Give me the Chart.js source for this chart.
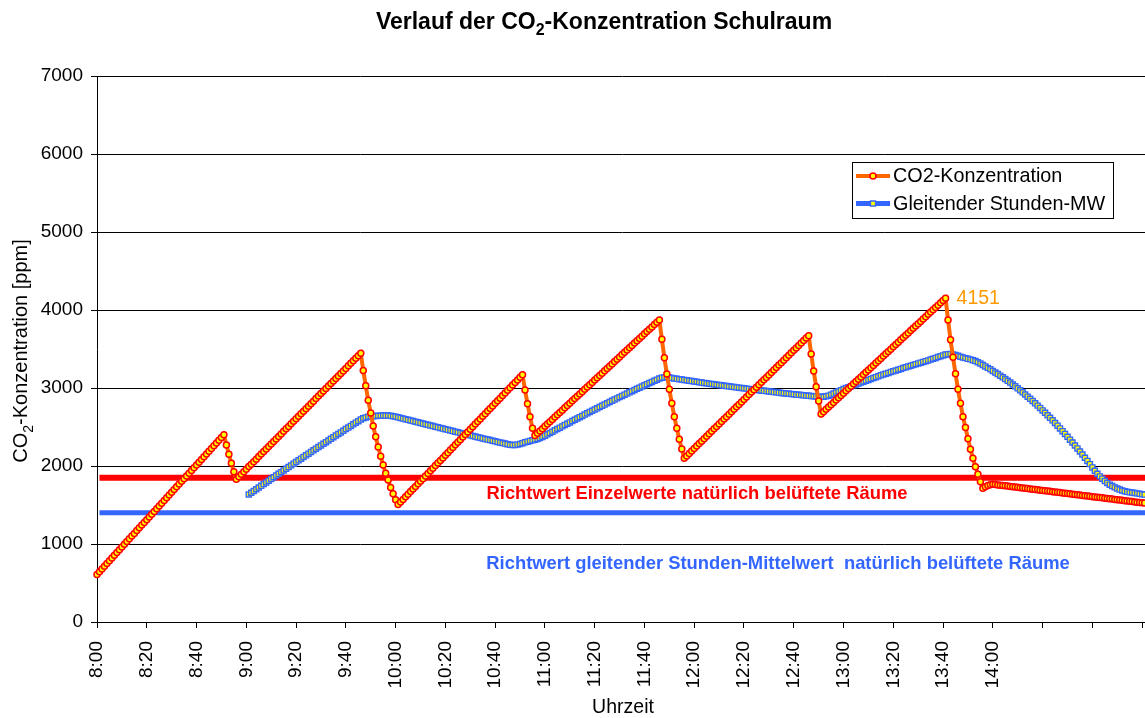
<!DOCTYPE html>
<html lang="de">
<head>
<meta charset="utf-8">
<title>Verlauf der CO2-Konzentration Schulraum</title>
<script src="https://cdn.jsdelivr.net/npm/chart.js@4.4.1/dist/chart.umd.min.js"></script>
<style>
  html, body { margin: 0; padding: 0; background: #fff; overflow: hidden; }
  #wrap { width: 1178px; height: 718px; }
</style>
</head>
<body>
<div id="wrap"><canvas id="co2Chart" width="1178" height="718"></canvas></div>
<script>
// Messwerte: ein Wert pro Minute ab 8:00 (Index = Minuten seit 8:00)
const co2Werte = [
    610, 645, 680, 715, 750, 786, 821, 856, 891, 926, 961, 996, 1031, 1066, 1101, 1136, 1172, 1207, 1242, 1277,
    1312, 1347, 1382, 1417, 1452, 1487, 1522, 1557, 1593, 1628, 1663, 1698, 1733, 1768, 1803, 1838, 1873, 1908, 1943, 1979,
    2014, 2049, 2084, 2119, 2154, 2189, 2224, 2259, 2294, 2329, 2365, 2400,
    2270, 2150, 2035, 1925, 1830,
    1862, 1895, 1927, 1959, 1992, 2024, 2056, 2088, 2121, 2153, 2185, 2218, 2250, 2282, 2315, 2347, 2379, 2411, 2444, 2476,
    2508, 2541, 2573, 2605, 2638, 2670, 2702, 2734, 2767, 2799, 2831, 2864, 2896, 2928, 2961, 2993, 3025, 3057, 3090, 3122,
    3154, 3187, 3219, 3251, 3284, 3316, 3348, 3380, 3413, 3445,
    3225, 3030, 2842, 2680, 2512, 2376, 2244, 2124, 2013, 1906, 1821, 1725, 1645, 1568, 1505,
    1538, 1572, 1605, 1638, 1672, 1705, 1738, 1771, 1805, 1838, 1871, 1905, 1938, 1971, 2005, 2038, 2071, 2104, 2138, 2171,
    2204, 2238, 2271, 2304, 2338, 2371, 2404, 2437, 2471, 2504, 2537, 2571, 2604, 2637, 2671, 2704, 2737, 2770, 2804, 2837,
    2870, 2904, 2937, 2970, 3004, 3037, 3070, 3103, 3137, 3170,
    2974, 2799, 2632, 2483, 2390,
    2420, 2449, 2479, 2509, 2538, 2568, 2597, 2627, 2657, 2686, 2716, 2746, 2775, 2805, 2835, 2864, 2894, 2924, 2953, 2983,
    3013, 3042, 3072, 3101, 3131, 3161, 3190, 3220, 3250, 3279, 3309, 3339, 3368, 3398, 3428, 3457, 3487, 3516, 3546, 3576,
    3605, 3635, 3665, 3694, 3724, 3754, 3783, 3813, 3843, 3872,
    3624, 3389, 3179, 2983, 2803, 2632, 2483, 2342, 2218, 2098,
    2129, 2161, 2192, 2224, 2255, 2287, 2318, 2350, 2381, 2413, 2444, 2476, 2507, 2538, 2570, 2601, 2633, 2664, 2696, 2727,
    2759, 2790, 2822, 2853, 2885, 2916, 2948, 2979, 3011, 3042, 3073, 3105, 3136, 3168, 3199, 3231, 3262, 3294, 3325, 3357,
    3388, 3420, 3451, 3483, 3514, 3545, 3577, 3608, 3640, 3671,
    3436, 3218, 3017, 2833, 2667,
    2697, 2726, 2756, 2786, 2815, 2845, 2875, 2904, 2934, 2964, 2994, 3023, 3053, 3083, 3112, 3142, 3172, 3201, 3231, 3261,
    3290, 3320, 3350, 3379, 3409, 3439, 3469, 3498, 3528, 3558, 3587, 3617, 3647, 3676, 3706, 3736, 3765, 3795, 3825, 3854,
    3884, 3914, 3944, 3973, 4003, 4033, 4062, 4092, 4122, 4151,
    3872, 3620, 3393, 3183, 2983, 2803, 2632, 2494, 2350, 2216, 2098, 1991, 1893, 1797, 1714,
    1735, 1750, 1760, 1766, 1762, 1758, 1754, 1750, 1746, 1742, 1738, 1734, 1730, 1726, 1722, 1718, 1714, 1710, 1706, 1702,
    1698, 1694, 1690, 1686, 1683, 1679, 1675, 1671, 1667, 1663, 1659, 1655, 1651, 1647, 1643, 1639, 1635, 1631, 1627, 1623,
    1619, 1615, 1611, 1607, 1604, 1600, 1596, 1592, 1588, 1584, 1580, 1576, 1572, 1568, 1564, 1560, 1556, 1552, 1548, 1544,
    1540, 1536, 1532, 1528, 1525
];

// Gleitender Stundenmittelwert, erster Wert bei Minute 61
const mittelStart = 61;
const stundenMittel = [
    1635, 1657, 1679, 1702, 1724, 1746, 1768, 1790, 1812, 1834, 1856, 1878, 1900, 1921, 1943, 1965, 1986, 2008, 2030, 2051,
    2073, 2094, 2116, 2137, 2158, 2180, 2201, 2222, 2243, 2264, 2285, 2306, 2327, 2348, 2369, 2390, 2411, 2431, 2452, 2473,
    2493, 2514, 2534, 2555, 2575, 2595,
    2611, 2623, 2632, 2637, 2639, 2641, 2643, 2644, 2646, 2647, 2646, 2643, 2638, 2632, 2624,
    2616, 2608, 2600, 2592, 2584, 2576, 2568, 2560, 2552, 2544, 2536, 2528, 2520, 2512, 2504, 2496, 2488, 2480, 2472, 2464,
    2456, 2448, 2440, 2432, 2424, 2416, 2408, 2401, 2393, 2385, 2377, 2370, 2362, 2354, 2347, 2339, 2332, 2324, 2317, 2309,
    2302, 2294, 2287, 2280, 2272,
    2269, 2270, 2274, 2282, 2293, 2303, 2312, 2321, 2329, 2337, 2347, 2359, 2373, 2389, 2406, 2423, 2440, 2457, 2474, 2491,
    2508, 2525, 2542, 2559, 2576, 2593, 2609, 2626, 2642, 2659, 2675, 2692, 2708, 2724, 2740, 2756, 2772, 2788, 2804, 2820,
    2836, 2852, 2867, 2883, 2898, 2914, 2929, 2944, 2959, 2974, 2989, 3004, 3019, 3034, 3049, 3064, 3078, 3093, 3107, 3122,
    3132, 3137, 3138, 3135, 3129, 3123, 3118, 3113, 3109, 3104, 3099, 3094, 3089, 3084, 3080, 3075, 3070, 3065, 3061, 3056,
    3051, 3047, 3042, 3038, 3034, 3029, 3025, 3021, 3016, 3012, 3008, 3004, 3000, 2996, 2992, 2988, 2984, 2980, 2976, 2972,
    2968, 2964, 2960, 2956, 2952, 2948, 2945, 2941, 2937, 2934, 2930, 2927, 2923, 2920, 2916, 2913, 2910, 2906, 2903, 2900,
    2897, 2894, 2892, 2889, 2887,
    2888, 2893, 2902, 2914, 2929, 2943, 2958, 2972, 2987, 2999, 3011, 3022, 3034, 3046, 3058, 3069, 3081, 3093, 3104, 3116,
    3127, 3139, 3150, 3162, 3172, 3183, 3193, 3204, 3214, 3224, 3234, 3244, 3255, 3265, 3275, 3285, 3295, 3305, 3315, 3325,
    3334, 3344, 3354, 3364, 3375, 3386, 3397, 3407, 3418, 3429,
    3434, 3435, 3431, 3424, 3413, 3402, 3392, 3383, 3374, 3367, 3357, 3345, 3330, 3314, 3296, 3277, 3258, 3239, 3219, 3199,
    3179, 3158, 3137, 3115, 3092, 3069, 3045, 3021, 2996, 2970, 2944, 2917, 2889, 2861, 2833, 2804, 2774, 2744, 2713, 2682,
    2650, 2618, 2585, 2551, 2517, 2482, 2447, 2411, 2375, 2338, 2301, 2263, 2225, 2186, 2146, 2106, 2065, 2024, 1982, 1939,
    1901, 1867, 1837, 1808, 1783, 1761, 1743, 1726, 1711, 1698, 1686, 1677, 1669, 1663, 1659, 1654, 1649, 1643, 1637, 1633
];

// Richtwerte (ppm) und ihre Ausdehnung in Minuten
const richtwertEinzel = 1850;
const richtwertMittel = 1400;
const richtwertVonBis = [1, 422];

// Achsenbeschriftung: Minuten seit 8:00 und zugehörige Uhrzeit
const tickMinuten = [0, 20, 40, 60, 80, 100, 120, 140, 160, 180, 200, 220, 240, 260, 280, 300, 320, 340, 360, 380, 400, 420];
const tickLabels = ['8:00', '8:20', '8:40', '9:00', '9:20', '9:40', '10:00', '10:20', '10:40', '11:00', '11:20',
    '11:40', '12:00', '12:20', '12:40', '13:00', '13:20', '13:40', '14:00', '', '', ''];

// Maximum mit Beschriftung
const maxMinute = 341;
const maxWert = 4151;

const schrift = '"Liberation Sans", Arial, Helvetica, sans-serif';
Chart.defaults.font.family = schrift;
Chart.defaults.font.size = 19;
Chart.defaults.color = '#000';

// Text mit tiefgestellten Teilen zentriert zeichnen
function textMitIndex(ctx, teile, x, y, groesse, gewicht, farbe) {
    const normal = gewicht + ' ' + groesse + 'px ' + schrift;
    const klein = gewicht + ' ' + Math.round(groesse * 0.68) + 'px ' + schrift;
    let breite = 0;
    teile.forEach(t => {
        ctx.font = t[1] ? klein : normal;
        breite += ctx.measureText(t[0]).width;
    });
    let cx = x - breite / 2;
    ctx.fillStyle = farbe;
    ctx.textAlign = 'left';
    ctx.textBaseline = 'alphabetic';
    teile.forEach(t => {
        ctx.font = t[1] ? klein : normal;
        ctx.fillText(t[0], cx, y + (t[1] ? groesse * 0.28 : 0));
        cx += ctx.measureText(t[0]).width;
    });
}

// Titel, Achsentitel und Beschriftungen
const texte = {
    id: 'texte',
    afterDraw(chart) {
        const ctx = chart.ctx;
        const x = chart.scales.x;
        const y = chart.scales.y;
        ctx.save();

        textMitIndex(ctx, [['Verlauf der CO', false], ['2', true], ['-Konzentration Schulraum', false]],
            604, 29, 23, 'bold', '#000');

        ctx.save();
        ctx.translate(27, 351);
        ctx.rotate(-Math.PI / 2);
        textMitIndex(ctx, [['CO', false], ['2', true], ['-Konzentration [ppm]', false]], 0, 0, 20, 'normal', '#000');
        ctx.restore();

        textMitIndex(ctx, [['Uhrzeit', false]], 623, 713, 19.5, 'normal', '#000');

        textMitIndex(ctx, [['Richtwert Einzelwerte natürlich belüftete Räume', false]],
            697, y.getPixelForValue(richtwertEinzel) + 21, 18.4, 'bold', '#FF0000');
        textMitIndex(ctx, [['Richtwert gleitender Stunden-Mittelwert  natürlich belüftete Räume', false]],
            778, y.getPixelForValue(richtwertMittel) + 56, 18.4, 'bold', '#3366FF');

        ctx.font = '19.5px ' + schrift;
        ctx.fillStyle = '#FF9900';
        ctx.textAlign = 'left';
        ctx.textBaseline = 'middle';
        ctx.fillText(String(maxWert), x.getPixelForValue(maxMinute) + 11, y.getPixelForValue(maxWert));

        ctx.restore();
    }
};

// Legende mit Rahmen oben rechts
const legende = {
    id: 'legende',
    afterDraw(chart) {
        const ctx = chart.ctx;
        ctx.save();
        ctx.fillStyle = '#fff';
        ctx.fillRect(852.5, 162.5, 261, 56);
        ctx.strokeStyle = '#000';
        ctx.lineWidth = 1;
        ctx.strokeRect(852.5, 162.5, 261, 56);

        chart.data.datasets.slice(0, 2).forEach((ds, i) => {
            const yy = 176 + i * 27.5;
            ctx.strokeStyle = ds.borderColor;
            ctx.lineWidth = ds.borderWidth;
            ctx.beginPath();
            ctx.moveTo(856, yy);
            ctx.lineTo(890, yy);
            ctx.stroke();

            ctx.fillStyle = ds.pointBackgroundColor;
            ctx.strokeStyle = ds.pointBorderColor;
            ctx.lineWidth = ds.pointBorderWidth;
            ctx.beginPath();
            if (ds.pointStyle === 'rect') {
                const s = ds.pointRadius * Math.SQRT1_2;
                ctx.rect(873 - s, yy - s, 2 * s, 2 * s);
            } else {
                ctx.arc(873, yy, ds.pointRadius, 0, Math.PI * 2);
            }
            ctx.fill();
            ctx.stroke();

            ctx.font = '19.8px ' + schrift;
            ctx.fillStyle = '#000';
            ctx.textAlign = 'left';
            ctx.textBaseline = 'middle';
            ctx.fillText(ds.label, 893, yy + 1);
        });
        ctx.restore();
    }
};

new Chart(document.getElementById('co2Chart'), {
    type: 'line',
    data: {
        datasets: [
            {
                label: 'CO2-Konzentration',
                data: co2Werte.map((v, i) => ({ x: i, y: v })),
                borderColor: '#FF6600',
                borderWidth: 4,
                pointStyle: 'circle',
                pointRadius: 3,
                pointBorderWidth: 1.5,
                pointBorderColor: '#FF0000',
                pointBackgroundColor: '#FFFF00',
                tension: 0,
                clip: false,
                order: 0
            },
            {
                label: 'Gleitender Stunden-MW',
                data: stundenMittel.map((v, i) => ({ x: mittelStart + i, y: v })),
                borderColor: '#3366FF',
                borderWidth: 5,
                pointStyle: 'rect',
                pointRadius: 3.6,
                pointBorderWidth: 1.4,
                pointBorderColor: '#3366FF',
                pointBackgroundColor: '#FFFF00',
                tension: 0,
                clip: false,
                order: 1
            },
            {
                label: 'Richtwert Einzelwerte',
                data: richtwertVonBis.map(m => ({ x: m, y: richtwertEinzel })),
                borderColor: '#FF0000',
                borderWidth: 6,
                pointRadius: 0,
                order: 2
            },
            {
                label: 'Richtwert Stunden-MW',
                data: richtwertVonBis.map(m => ({ x: m, y: richtwertMittel })),
                borderColor: '#3366FF',
                borderWidth: 5,
                pointRadius: 0,
                order: 3
            }
        ]
    },
    options: {
        responsive: false,
        animation: false,
        layout: { padding: { top: 76, right: 12, left: 0, bottom: 0 } },
        plugins: {
            legend: { display: false },
            title: { display: false },
            tooltip: { enabled: false }
        },
        scales: {
            x: {
                type: 'linear',
                min: 0,
                max: 422,
                afterBuildTicks(scale) {
                    scale.ticks = tickMinuten.map(v => ({ value: v }));
                },
                afterFit(scale) {
                    scale.height = 96;
                },
                ticks: {
                    autoSkip: false,
                    minRotation: 90,
                    maxRotation: 90,
                    padding: 13,
                    color: '#000',
                    font: { size: 19 },
                    callback: value => tickLabels[tickMinuten.indexOf(value)]
                },
                grid: {
                    drawOnChartArea: false,
                    drawTicks: true,
                    tickLength: 6,
                    color: '#000'
                },
                border: { color: '#000', width: 1 }
            },
            y: {
                min: 0,
                max: 7000,
                afterFit(scale) {
                    scale.width = 97;
                },
                ticks: {
                    stepSize: 1000,
                    padding: 8,
                    color: '#000',
                    font: { size: 19 },
                    callback: value => String(value)
                },
                grid: {
                    color: '#000',
                    lineWidth: 1,
                    tickLength: 6
                },
                border: { color: '#000', width: 1 }
            }
        }
    },
    plugins: [texte, legende]
});
</script>
</body>
</html>
